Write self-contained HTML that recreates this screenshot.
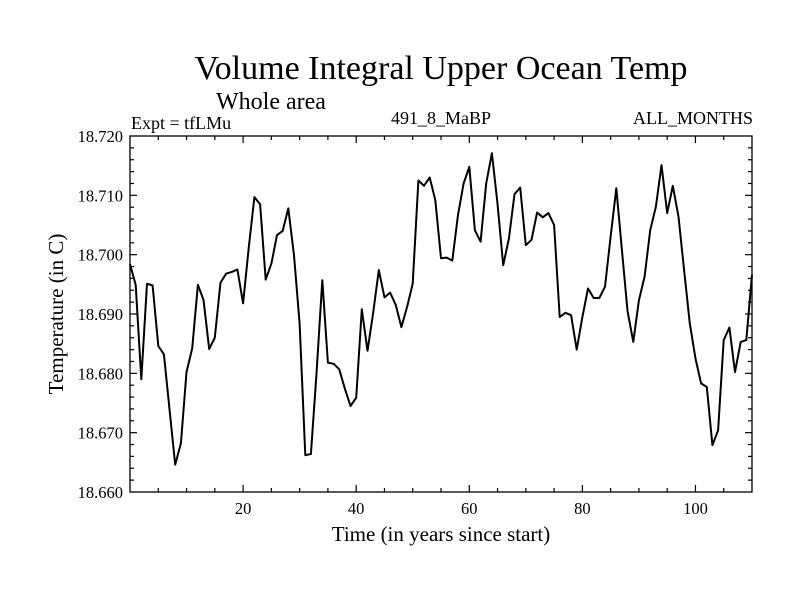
<!DOCTYPE html>
<html><head><meta charset="utf-8"><style>
body{margin:0;background:#fff}
svg text{font-family:"Liberation Serif",serif;fill:#000}
</style></head><body>
<svg id="chart" width="800" height="600" viewBox="0 0 800 600" xmlns="http://www.w3.org/2000/svg">
<rect width="800" height="600" fill="#fff"/>
<text x="441" y="79" font-size="34" text-anchor="middle">Volume Integral Upper Ocean Temp</text>
<text x="271" y="109" font-size="24" text-anchor="middle">Whole area</text>
<text x="131" y="129" font-size="18">Expt = tfLMu</text>
<text x="441" y="124" font-size="18" text-anchor="middle">491_8_MaBP</text>
<text x="753" y="124" font-size="18" text-anchor="end">ALL_MONTHS</text>
<text x="441" y="541" font-size="21" text-anchor="middle">Time (in years since start)</text>
<text x="0" y="0" font-size="21" text-anchor="middle" transform="translate(63,314) rotate(-90)">Temperature (in C)</text>
<g id="axes"></g>
<path id="series" fill="none" stroke="#000" stroke-width="2" stroke-linejoin="round"/>
<rect x="130" y="136" width="622" height="356" fill="none" stroke="#000" stroke-width="1.3"/>
</svg>
<script>
const values=[18.6984,18.6949,18.6790,18.6951,18.6948,18.6846,18.6832,18.6738,18.6646,18.6682,
18.6802,18.6842,18.6949,18.6924,18.6841,18.6860,18.6953,18.6968,18.6971,18.6975,
18.6918,18.7011,18.7097,18.7085,18.6958,18.6985,18.7033,18.7040,18.7078,18.6999,
18.6884,18.6662,18.6664,18.6802,18.6957,18.6818,18.6816,18.6807,18.6774,18.6745,
18.6759,18.6908,18.6838,18.6901,18.6974,18.6928,18.6936,18.6915,18.6878,18.6912,
18.6951,18.7125,18.7116,18.7130,18.7092,18.6994,18.6995,18.6990,18.7067,18.7120,
18.7148,18.7041,18.7022,18.7120,18.7171,18.7086,18.6982,18.7027,18.7102,18.7113,
18.7016,18.7025,18.7071,18.7063,18.7070,18.7050,18.6895,18.6902,18.6898,18.6840,
18.6895,18.6943,18.6927,18.6927,18.6946,18.7030,18.7112,18.7008,18.6904,18.6853,
18.6923,18.6963,18.7041,18.7081,18.7151,18.7070,18.7116,18.7064,18.6974,18.6884,
18.6825,18.6783,18.6777,18.6679,18.6704,18.6856,18.6877,18.6802,18.6853,18.6856,18.6966];
const xTickLabels=[20,40,60,80,100];
const yTickLabels=["18.660","18.670","18.680","18.690","18.700","18.710","18.720"];
const X0=130,X1=752,Y0=492,Y1=136,XMIN=0,XMAX=110,YMIN=18.660,YMAX=18.720;
const sx=v=>X0+(v-XMIN)/(XMAX-XMIN)*(X1-X0);
const sy=v=>Y0-(v-YMIN)/(YMAX-YMIN)*(Y0-Y1);
const NS="http://www.w3.org/2000/svg";
const axes=document.getElementById('axes');
function ln(x1,y1,x2,y2,name){const l=document.createElementNS(NS,'line');
l.setAttribute('x1',x1);l.setAttribute('y1',y1);l.setAttribute('x2',x2);l.setAttribute('y2',y2);
l.setAttribute('stroke','#000');l.setAttribute('stroke-width','1.2');


axes.appendChild(l);}
function tx(x,y,s,anchor,name){const t=document.createElementNS(NS,'text');
t.setAttribute('x',x);t.setAttribute('y',y);t.setAttribute('font-size','16.5');t.setAttribute('text-anchor',anchor);t.textContent=s;


axes.appendChild(t);}
for(let v=5;v<XMAX;v+=5){const x=sx(v),L=(v%20===0)?7:4;ln(x,Y0,x,Y0-L,'x-tick');ln(x,Y1,x,Y1+L,'x-tick-top');}
for(let i=1;i<30;i++){const v=YMIN+i*0.002,y=sy(v),L=(i%5===0)?7:4;ln(X0,y,X0+L,y,'y-tick');ln(X1,y,X1-L,y,'y-tick-right');}
xTickLabels.forEach(v=>tx(sx(v),514,String(v),'middle','x-tick-label'));
yTickLabels.forEach(s=>tx(123,sy(parseFloat(s))+6,s,'end','y-tick-label'));
document.getElementById('series').setAttribute('d',values.map((v,i)=>(i?'L':'M')+sx(i).toFixed(1)+','+sy(v).toFixed(1)).join(''));
</script>
</body></html>
